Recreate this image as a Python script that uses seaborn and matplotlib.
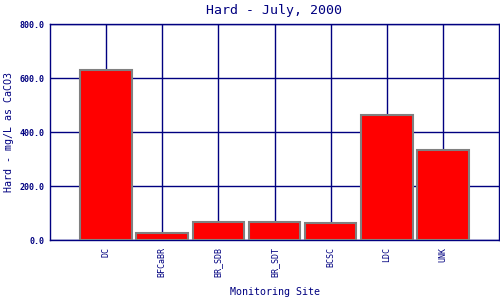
import matplotlib
matplotlib.use("Agg")
import matplotlib.pyplot as plt
import seaborn as sns
import pandas as pd

sites = ["DC", "BFCaBR", "BR_SDB", "BR_SDT", "BCSC", "LDC", "UNK"]
hardness = [628, 26, 65, 65, 62, 462, 332]
yticks = [0, 200, 400, 600, 800]
ytick_labels = ["0.0", "200.0", "400.0", "600.0", "800.0"]

navy = "#000080"
sns.set_theme(style="white")
plt.rcParams["font.family"] = ["DejaVu Sans Mono", "DejaVu Sans"]

df = pd.DataFrame({"site": sites, "hard": hardness})

fig = plt.figure(figsize=(5, 3), dpi=100)
ax = fig.add_axes([0.1, 0.2, 0.898, 0.72])
sns.barplot(data=df, x="site", y="hard", color="#ff0000", saturation=1,
            width=0.92, edgecolor="#808080", linewidth=1.5, ax=ax, zorder=3)

ax.set_xlim(-1, len(sites))
ax.set_ylim(0, 800)
ax.set_yticks(yticks)
ax.set_yticklabels(ytick_labels, fontsize=6, fontweight="bold", color=navy)
ax.set_xticks(range(len(sites)))
ax.set_xticklabels(sites, rotation=90, fontsize=6, color=navy)
ax.tick_params(axis="both", length=0)
ax.tick_params(axis="x", pad=5)
ax.tick_params(axis="y", pad=4)
ax.set_axisbelow(True)
ax.grid(True, color=navy, linewidth=1)
for s in ax.spines.values():
    s.set_color(navy)
    s.set_linewidth(1)
    s.set_visible(True)

ax.set_xlabel("Monitoring Site", fontsize=7.2, color=navy, labelpad=7)
ax.set_ylabel("Hard - mg/L as CaCO3", fontsize=7.2, color=navy, labelpad=4)
ax.set_title("Hard - July, 2000", fontsize=9.5, color=navy, pad=7.5)

fig.savefig("out.png", dpi=100, facecolor="white")
